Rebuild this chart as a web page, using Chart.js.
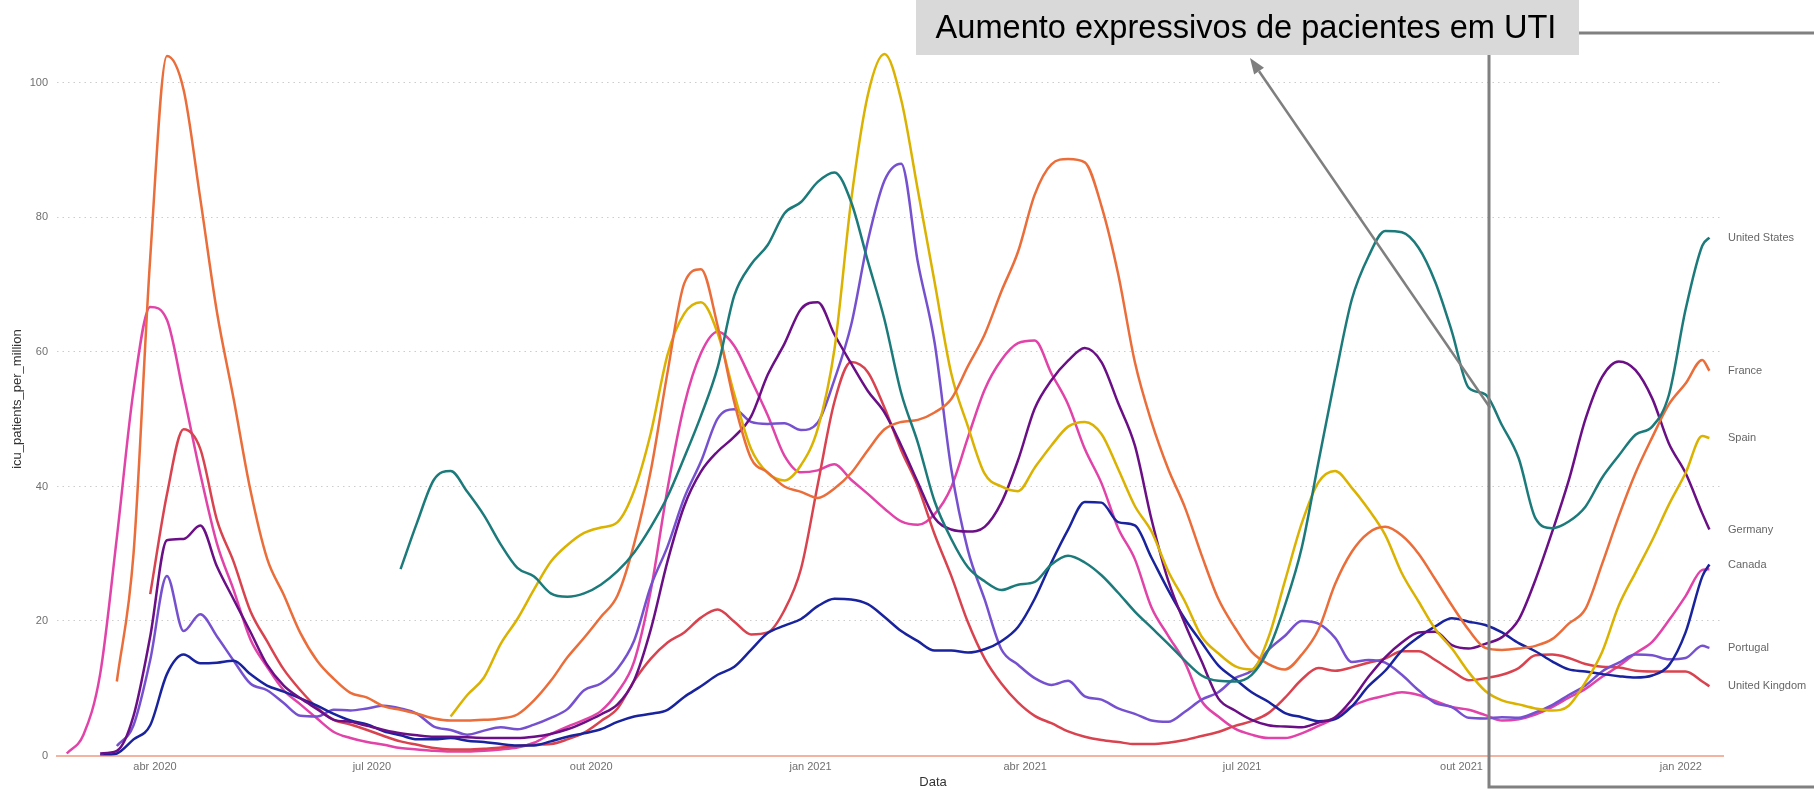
<!DOCTYPE html>
<html>
<head>
<meta charset="utf-8">
<title>icu_patients_per_million</title>
<script src="https://cdn.jsdelivr.net/npm/chart.js@4.4.1/dist/chart.umd.min.js"></script>
<style>
  html, body { margin: 0; padding: 0; background: #fff; }
  #chart { display: block; }
</style>
</head>
<body>
<canvas id="chart" width="1814" height="790"></canvas>
<script>
// weekly samples
const dates = [
  '2020-02-24','2020-03-02','2020-03-09','2020-03-16','2020-03-23','2020-03-30','2020-04-06','2020-04-13','2020-04-20','2020-04-27','2020-05-04','2020-05-11','2020-05-18','2020-05-25','2020-06-01','2020-06-08','2020-06-15',
  '2020-06-22','2020-06-29','2020-07-06','2020-07-13','2020-07-20','2020-07-27','2020-08-03','2020-08-10','2020-08-17','2020-08-24','2020-08-31','2020-09-07','2020-09-14','2020-09-21','2020-09-28','2020-10-05','2020-10-12',
  '2020-10-19','2020-10-26','2020-11-02','2020-11-09','2020-11-16','2020-11-23','2020-11-30','2020-12-07','2020-12-14','2020-12-21','2020-12-28','2021-01-04','2021-01-11','2021-01-18','2021-01-25','2021-02-01','2021-02-08','2021-02-15',
  '2021-02-22','2021-03-01','2021-03-08','2021-03-15','2021-03-22','2021-03-29','2021-04-05','2021-04-12','2021-04-19','2021-04-26','2021-05-03','2021-05-10','2021-05-17','2021-05-24','2021-05-31','2021-06-07','2021-06-14',
  '2021-06-21','2021-06-28','2021-07-05','2021-07-12','2021-07-19','2021-07-26','2021-08-02','2021-08-09','2021-08-16','2021-08-23','2021-08-30','2021-09-06','2021-09-13','2021-09-20','2021-09-27','2021-10-04','2021-10-11',
  '2021-10-18','2021-10-25','2021-11-01','2021-11-08','2021-11-15','2021-11-22','2021-11-29','2021-12-06','2021-12-13','2021-12-20','2021-12-27','2022-01-03','2022-01-10','2022-01-13'
];

const unitedStates = [
  null,null,null,null,null,null,null,null,null,null,null,null,null,null,null,null,null,
  null,null,null,27.7,34.7,41,42.3,39.2,35.7,31.4,27.9,26.6,24.1,23.6,24.1,25.4,27.4,
  30.2,34,38.5,44.3,50.5,57.7,68.4,73,75.9,80.6,82.3,85.3,86.7,82.3,73.5,64.8,53.9,46.5,
  37.8,32.2,28,25.9,24.6,25.4,25.8,28.4,29.7,28.7,26.8,24.2,21.4,19,16.6,14.1,11.9,
  11.1,11,12,15.7,22.4,30.9,43.6,56.2,67.8,74.2,78,77.8,75.5,70.4,63,54.7,53.7,
  49.1,44.2,35.3,33.8,34.8,37,41.3,44.6,47.7,48.9,53.6,66.3,75.8,77
];
const france = [
  null,null,null,11,30,74,104,99,82.8,65.9,53,39.5,29.3,23.9,18.2,14.1,11.4,
  9.3,8.6,7.3,6.8,6.2,5.5,5.2,5.2,5.3,5.5,6.1,8.2,11.1,14.6,17.5,20.6,23.8,
  31.5,42.4,57,70.2,72.3,63.9,52.5,44.2,42.1,40,39.2,38.3,39.7,42,45.4,48.5,49.6,49.9,
  51,53,57.9,62.6,69,74.9,83.4,87.9,88.7,88.2,81.7,71.6,58.5,49.6,42.6,36.9,29.8,
  23.3,19,15.4,13.6,12.8,15,18.7,25.5,30.3,33.1,34,32.7,30,26.2,22.3,18.7,16,
  15.7,15.9,16.3,17.3,19.6,21.8,28.5,35.6,42,47.3,52.2,55.3,58.8,57.2
];
const spain = [
  null,null,null,null,null,null,null,null,null,null,null,null,null,null,null,null,null,
  null,null,null,null,null,null,5.8,9,11.6,16.6,20.3,24.7,28.8,31.3,33.1,33.9,34.7,
  39.4,48,59.6,65.7,67.4,62.8,53.7,45.6,42,40.9,43.2,48.6,60.4,82.5,98.2,104.3,97.5,84,
  70.4,56.8,48.9,41.9,40,39.3,42.8,46.1,48.9,49.6,47.8,42.6,37.1,33.3,27.4,22.9,17.7,
  15.2,13.3,12.8,17.5,26,34.5,40.6,42.3,39.8,36.6,32.8,27.1,22.9,18.8,15.9,12.4,9.6,
  8.2,7.6,7,6.7,7.4,10.9,15.4,22.3,27.2,32,37.3,42,47.5,47.2
];
const germany = [
  null,null,0.3,0.7,5.9,17.7,32,32.2,34.2,28.1,23.2,18.4,13.5,10.4,8.5,6.9,5.3,
  5,4.4,3.8,3.3,3,2.8,2.8,2.7,2.6,2.6,2.6,2.8,3.2,3.9,4.9,6.1,7.6,
  11.2,18.8,28.9,37.1,42.2,45.2,47.4,50.4,56.6,61.2,66.4,67.4,62.6,58.3,54.2,51,46.1,40.6,
  35.3,33.6,33.3,34,37.6,43.9,51.6,55.8,58.7,60.6,58.5,52.4,46.1,35.1,26,19.6,14,
  8.5,6.7,5.3,4.5,4.3,4.2,4.9,5.7,8.3,11.7,14.6,16.8,18.3,18.4,16.4,15.9,16.6,
  17.6,20.2,26.1,33.2,40.9,50,56.3,58.6,57.3,53.1,46.4,42,36,33.6
];
const canada = [
  null,null,0,0.3,2.4,4.5,12.1,15,13.7,13.8,14.1,12.1,10.4,9.5,8.5,7.4,6.2,
  5.2,4.6,3.6,3,2.4,2.4,2.6,2.2,2,1.7,1.5,1.5,2.1,2.8,3.3,3.9,5,
  5.8,6.2,6.8,8.7,10.3,12,13.2,15.7,18.2,19.3,20.3,22.2,23.3,23.2,22.5,20.6,18.5,17,
  15.6,15.6,15.3,15.8,17,19.1,23.3,28.7,33.6,37.7,37.6,34.7,34.2,29.4,24.6,20.3,16.8,
  13.4,11.4,9.4,8,6.3,5.7,5.1,5.4,7.3,10.3,12.6,15.6,17.6,19.2,20.4,19.9,19.4,
  18.3,16.7,15.5,14,12.8,12.5,12.1,11.8,11.6,11.9,13.4,18.3,26.6,28.4
];
const portugal = [
  null,null,null,1.4,4.5,14.2,26.7,18.5,21,17.7,14.1,10.7,9.7,7.8,5.9,5.8,6.8,
  6.7,7,7.4,7,6.2,4.3,3.8,3.1,3.7,4.2,3.9,4.6,5.6,6.9,9.7,10.7,12.9,
  17.1,25.2,31.1,38.3,43.7,50.1,51.5,49.6,49.3,49.4,48.4,49.5,55.9,64,76.5,85.5,88,73.3,
  61.4,42.6,30.5,23.2,15.8,13.5,11.5,10.5,11.1,8.8,8.3,7,6.2,5.2,5,6.5,8.3,
  9.4,11.5,12.6,15.7,17.8,20,19.6,17.5,13.9,14.2,13.8,12,9.7,7.8,7.2,5.6,5.5,
  5.7,5.6,6.4,7.5,9,10.4,12.5,13.8,15,14.9,14.3,14.5,16.3,16
];
const unitedKingdom = [
  null,null,null,null,null,24,38.8,48.5,45.6,35,28.8,21.5,17,12.8,9.7,7.1,5.3,
  4.6,3.8,2.9,2.1,1.6,1.1,0.9,0.9,1,1.2,1.4,1.6,1.7,2.4,3.4,5.1,7,
  11.1,14.4,16.8,18.3,20.5,21.7,19.9,18,18.3,21.6,27.8,40.3,52.6,58.5,57,51.7,45.4,40,
  32.9,26.7,19.8,14.4,10.7,7.9,5.9,4.8,3.6,2.8,2.3,2,1.7,1.7,1.9,2.3,2.9,
  3.5,4.4,5.1,6.3,8.6,11.3,13,12.6,13.1,13.8,14.4,15.5,15.5,14.2,12.6,11.2,11.5,
  12,13,14.9,15,14.5,13.6,13.2,13.1,12.6,12.5,12.5,12.5,11,10.3
];
const italy = [
  0.3,3.1,12.1,32.4,54.3,66.7,64.8,53.7,41.9,31.5,24.6,17.3,13.2,9.7,7.6,5.5,3.5,
  2.6,2,1.6,1.1,0.9,0.7,0.6,0.6,0.7,0.9,1.2,1.9,3.2,4.3,5.3,6.6,9.4,
  14,24.6,39.7,52.1,59.8,63,60.9,55.9,50.6,44.6,42.1,42.4,43.3,41,38.9,36.7,34.8,34.3,
  35.9,39.9,47.3,54.4,58.8,61.3,61.7,56.8,52.2,45.6,40.5,33.8,29.2,22,17.8,13.8,8.1,
  5.8,4,3.1,2.6,2.6,3.3,4.4,5.6,7.3,8.3,8.9,9.4,9,8.1,7.2,6.8,6,
  5.2,5.4,6.1,7.2,8.6,9.9,11.7,13.3,15.2,16.9,20.1,23.7,27.6,27.7
];

const tickDates = ['2020-04-01','2020-07-01','2020-10-01','2021-01-01','2021-04-01','2021-07-01','2021-10-01','2022-01-01'];
const tickLabels = ['abr 2020','jul 2020','out 2020','jan 2021','abr 2021','jul 2021','out 2021','jan 2022'];
const yTicks = [0, 20, 40, 60, 80, 100];
// Italy's end label is hidden behind Canada's in the original
const endLabelNames = ['United States','France','Spain','Germany','Canada','Portugal','United Kingdom'];
const noteText = 'Aumento expressivos de pacientes em UTI';

const FONT = '"Liberation Sans", Arial, sans-serif';
Chart.defaults.font.family = FONT;

function dayOf(s) {
  return (Date.parse(s) - Date.parse('2020-04-01')) / 86400000;
}
const tickDays = tickDates.map(dayOf);

function toPoints(values) {
  return values.map((v, i) => ({ x: dayOf(dates[i]), y: v }));
}

const seriesList = [
  { name: 'United States', values: unitedStates, color: '#1c7a7b' },
  { name: 'France', values: france, color: '#ea6d3a' },
  { name: 'Spain', values: spain, color: '#dbb200' },
  { name: 'Germany', values: germany, color: '#6b0f86' },
  { name: 'Canada', values: canada, color: '#18239d' },
  { name: 'Portugal', values: portugal, color: '#7651cf' },
  { name: 'United Kingdom', values: unitedKingdom, color: '#d9434f' },
  { name: 'Italy', values: italy, color: '#e143a9' }
];

const overlay = {
  id: 'overlay',
  afterDraw(chart) {
    const { ctx, chartArea, scales } = chart;
    ctx.save();

    // axis titles
    ctx.fillStyle = '#333';
    ctx.font = '13px ' + FONT;
    ctx.textAlign = 'center';
    ctx.textBaseline = 'middle';
    ctx.fillText('Data', 933, 782);
    ctx.save();
    ctx.translate(17, (chartArea.top + chartArea.bottom) / 2);
    ctx.rotate(-Math.PI / 2);
    ctx.fillText('icu_patients_per_million', 0, 0);
    ctx.restore();

    // labels at the end of each line
    ctx.font = '11px ' + FONT;
    ctx.fillStyle = '#666';
    ctx.textAlign = 'left';
    chart.data.datasets.forEach(ds => {
      if (!endLabelNames.includes(ds.label)) return;
      const last = ds.data[ds.data.length - 1];
      ctx.fillText(ds.label, chartArea.right + 5, scales.y.getPixelForValue(last.y));
    });

    // bracket around the last months
    ctx.strokeStyle = '#808080';
    ctx.lineWidth = 3;
    ctx.beginPath();
    ctx.moveTo(1820, 33);
    ctx.lineTo(1489, 33);
    ctx.lineTo(1489, 787);
    ctx.lineTo(1820, 787);
    ctx.stroke();

    // note box
    ctx.fillStyle = '#d9d9d9';
    ctx.fillRect(916, 0, 663, 55);
    let size = 32;
    ctx.font = size + 'px ' + FONT;
    size = size * 621 / ctx.measureText(noteText).width;
    ctx.font = size + 'px ' + FONT;
    ctx.fillStyle = '#000';
    ctx.textAlign = 'center';
    ctx.textBaseline = 'middle';
    ctx.fillText(noteText, 1246, 29);

    // arrow from the US line up to the note
    const tx = scales.x.getPixelForValue(dayOf('2021-10-13'));
    const ty = scales.y.getPixelForValue(51.7);
    const hx = 1250, hy = 58;
    const ang = Math.atan2(hy - ty, hx - tx);
    const headLen = 16, headW = 6;
    const bx = hx - headLen * Math.cos(ang), by = hy - headLen * Math.sin(ang);
    ctx.strokeStyle = '#7f7f7f';
    ctx.fillStyle = '#7f7f7f';
    ctx.lineWidth = 2.5;
    ctx.beginPath();
    ctx.moveTo(tx, ty);
    ctx.lineTo(bx, by);
    ctx.stroke();
    ctx.beginPath();
    ctx.moveTo(hx, hy);
    ctx.lineTo(bx + headW * Math.sin(ang), by - headW * Math.cos(ang));
    ctx.lineTo(bx - headW * Math.sin(ang), by + headW * Math.cos(ang));
    ctx.closePath();
    ctx.fill();

    ctx.restore();
  }
};

const chart = new Chart(document.getElementById('chart'), {
  type: 'line',
  data: {
    datasets: seriesList.map(s => ({
      label: s.name,
      data: toPoints(s.values),
      borderColor: s.color,
      backgroundColor: s.color,
      borderWidth: 2.5,
      pointRadius: 0,
      cubicInterpolationMode: 'monotone',
      spanGaps: false
    }))
  },
  options: {
    responsive: false,
    animation: false,
    devicePixelRatio: 1,
    layout: { padding: { top: 42.6, right: 91, bottom: 0, left: 0 } },
    plugins: {
      legend: { display: false },
      tooltip: { enabled: false }
    },
    scales: {
      x: {
        type: 'linear',
        min: -41.1,
        max: 657.7,
        afterBuildTicks: scale => { scale.ticks = tickDays.map(v => ({ value: v })); },
        afterFit: scale => { scale.height = 34.5; },
        grid: { display: false, drawTicks: false },
        border: { display: true, color: '#f4b3a1', width: 2 },
        ticks: {
          padding: 5,
          color: '#707070',
          font: { size: 11 },
          maxRotation: 0,
          autoSkip: false,
          callback: v => tickLabels[tickDays.indexOf(v)]
        }
      },
      y: {
        min: 0,
        max: 106,
        afterBuildTicks: scale => { scale.ticks = yTicks.map(v => ({ value: v })); },
        afterFit: scale => { scale.width = 57; },
        grid: {
          drawTicks: false,
          lineWidth: 1,
          color: c => (c.tick && c.tick.value === 0) ? 'rgba(0,0,0,0)' : '#cccccc'
        },
        border: { display: false, dash: [1.5, 4] },
        ticks: { padding: 9, color: '#707070', font: { size: 11 } }
      }
    }
  },
  plugins: [overlay]
});
</script>
</body>
</html>
